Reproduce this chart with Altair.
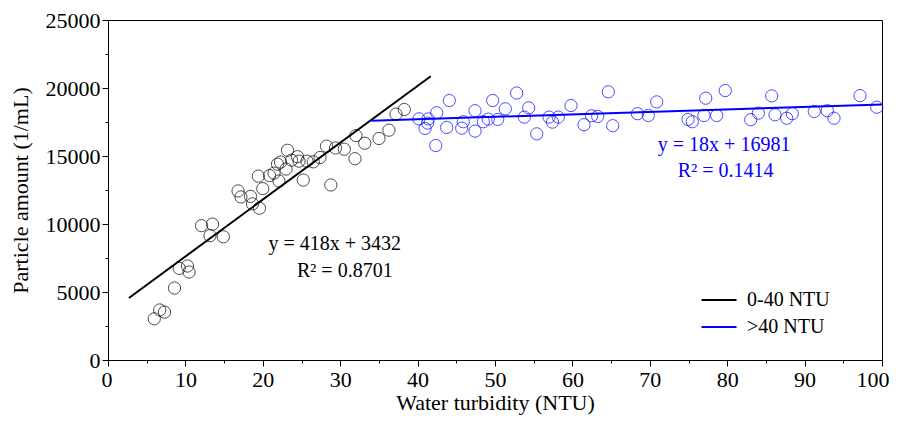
import altair as alt
import pandas as pd

# ---- data ----
low_x = [5.98, 6.68, 7.30, 8.59, 9.20, 10.27, 10.47, 12.08, 13.50, 13.18, 14.90, 16.80, 17.18,
         18.41, 18.67, 19.57, 19.42, 19.99, 20.87, 21.45, 22.09, 21.90, 22.29, 23.00, 23.19,
         23.71, 24.48, 24.68, 25.23, 25.71, 26.52, 27.39, 28.23, 28.79, 29.39, 30.53, 31.91,
         32.04, 33.17, 35.01, 36.30, 37.21, 38.28]
low_y = [3030, 3680, 3520, 5290, 6740, 6910, 6470, 9880, 9990, 9140, 9060, 12430, 11990,
         12030, 11480, 11160, 13520, 12600, 13560, 13740, 13160, 14400, 14550, 14040, 15420,
         14690, 14950, 14620, 13230, 14620, 14570, 14890, 15720, 12870, 15590, 15500, 14800,
         16500, 15940, 16290, 16900, 18080, 18420]

high_x = [40.18, 40.96, 41.30, 41.38, 42.34, 42.47, 43.76, 44.10, 45.70, 45.90, 47.42, 47.42,
          48.49, 49.13, 49.70, 50.35, 51.33, 52.80, 53.79, 54.35, 55.39, 56.98, 57.43, 58.18,
          59.82, 61.50, 62.49, 63.27, 64.64, 65.21, 68.41, 69.81, 70.89, 74.94, 75.49, 77.00,
          77.23, 78.64, 79.75, 83.04, 84.02, 85.75, 86.18, 87.69, 88.41, 91.25, 92.93, 93.80,
          97.16, 99.32]
high_y = [17730, 17030, 17420, 17730, 15770, 18180, 17100, 19080, 17050, 17520, 18330, 16830,
          17520, 17710, 19080, 17690, 18470, 19630, 17860, 18540, 16630, 17860, 17490, 17860,
          18710, 17300, 17960, 17910, 19720, 17230, 18110, 17980, 18980, 17690, 17520, 17980,
          19250, 17980, 19810, 17670, 18150, 19420, 18030, 17780, 18110, 18270, 18330, 17780,
          19440, 18590]

groups = ["0-40 NTU", ">40 NTU"]
slopes = [418, 18]
intercepts = [3432, 16981]
fit_x_start = [2.7, 34.0]
fit_x_end = [41.7, 100.0]
eq_text = ["y = 418x + 3432", "y = 18x + 16981"]
r2_text = ["R\u00b2 = 0.8701", "R\u00b2 = 0.1414"]

x_major = [0, 10, 20, 30, 40, 50, 60, 70, 80, 90, 100]
x_minor = [5, 15, 25, 35, 45, 55, 65, 75, 85, 95]
y_major = [0, 5000, 10000, 15000, 20000, 25000]
y_minor = [2500, 7500, 12500, 17500, 22500]

BLUE = "#0000ff"
FONT = "Liberation Serif"

low_df = pd.DataFrame({"x": low_x, "y": low_y})
high_df = pd.DataFrame({"x": high_x, "y": high_y})

fit_rows = []
for g, m, b, x0, x1 in zip(groups, slopes, intercepts, fit_x_start, fit_x_end):
    fit_rows.append({"x": x0, "y": m * x0 + b, "group": g})
    fit_rows.append({"x": x1, "y": m * x1 + b, "group": g})
fit_df = pd.DataFrame(fit_rows)

# annotation anchors (data coordinates)
ann_low = pd.DataFrame({"x": [29.3, 30.6], "y": [8550, 6580], "t": [eq_text[0], r2_text[0]]})
ann_high = pd.DataFrame({"x": [79.6, 79.8], "y": [15790, 13890], "t": [eq_text[1], r2_text[1]]})

xs = alt.Scale(domain=[0, 100], nice=False, zero=False)
ys = alt.Scale(domain=[0, 25000], nice=False, zero=False)

main_x_axis = alt.Axis(orient="bottom", values=x_major, tickSize=6, labelPadding=3,
                       labelFlush=True, labelFlushOffset=7, labelOverlap=False,
                       title="Water turbidity (NTU)", titlePadding=2, format="d")
main_y_axis = alt.Axis(orient="left", values=y_major, tickSize=6, labelPadding=2,
                       labelFlush=False, labelOverlap=False,
                       title="Particle amount (1/mL)", titlePadding=13, format="d")
minor_x_axis = alt.Axis(orient="bottom", values=x_minor, tickSize=3, labels=False,
                        domain=False, title=None)
minor_y_axis = alt.Axis(orient="left", values=y_minor, tickSize=3, labels=False,
                        domain=False, title=None)

lines = alt.Chart(fit_df).mark_line(strokeWidth=2).encode(
    x=alt.X("x:Q", scale=xs, axis=main_x_axis),
    y=alt.Y("y:Q", scale=ys, axis=main_y_axis),
    color=alt.Color("group:N",
                    scale=alt.Scale(domain=groups, range=["black", BLUE]),
                    legend=alt.Legend(title=None, orient="none", legendX=601, legendY=270,
                                      symbolType="M-2,0H2", symbolSize=306,
                                      symbolStrokeWidth=2, labelFont=FONT,
                                      labelFontSize=20, labelColor="black",
                                      labelOffset=18, rowPadding=7, padding=0)),
    detail="group:N",
)

pts_low = alt.Chart(low_df).mark_point(shape="circle", filled=False, color="black",
                                        size=150, strokeWidth=1).encode(
    x=alt.X("x:Q", scale=xs, axis=None),
    y=alt.Y("y:Q", scale=ys, axis=None),
)

pts_high = alt.Chart(high_df).mark_point(shape="circle", filled=False, color=BLUE,
                                          size=150, strokeWidth=1).encode(
    x=alt.X("x:Q", scale=xs, axis=minor_x_axis),
    y=alt.Y("y:Q", scale=ys, axis=minor_y_axis),
)

txt_low = alt.Chart(ann_low).mark_text(font=FONT, fontSize=20, color="black").encode(
    x=alt.X("x:Q", scale=xs, axis=None),
    y=alt.Y("y:Q", scale=ys, axis=None),
    text="t:N",
)
txt_high = alt.Chart(ann_high).mark_text(font=FONT, fontSize=20, color=BLUE).encode(
    x=alt.X("x:Q", scale=xs, axis=None),
    y=alt.Y("y:Q", scale=ys, axis=None),
    text="t:N",
)

chart = alt.layer(lines, pts_high, pts_low, txt_low, txt_high).resolve_axis(
    x="independent", y="independent"
).properties(
    width=774, height=340,
    autosize=alt.AutoSizeParams(type="none"),
    padding={"left": 100, "top": 12, "right": 8, "bottom": 56},
    background="white",
).configure_view(
    stroke="black", strokeWidth=1
).configure_axis(
    grid=False, domainColor="black", tickColor="black", labelColor="black",
    titleColor="black", labelFont=FONT, titleFont=FONT, labelFontSize=22,
    titleFontSize=22, titleFontWeight="normal", domainWidth=1, tickWidth=1
)

chart.save("out.html", embed_options={"renderer": "svg", "actions": False})
